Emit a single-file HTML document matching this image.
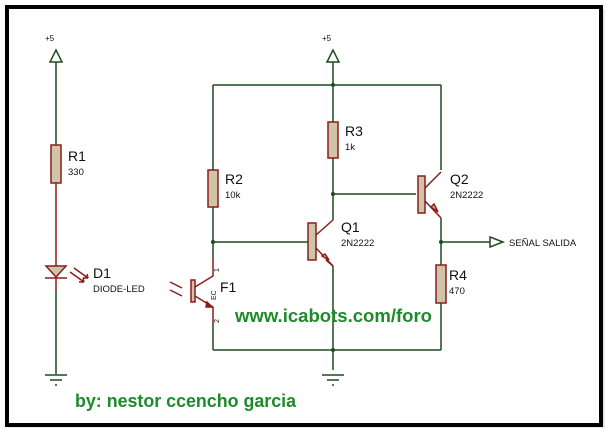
<!DOCTYPE html>
<html><head><style>
html,body{margin:0;padding:0;background:#fff;}
svg{display:block;}
text{font-family:"Liberation Sans",Arial,sans-serif;}
</style></head><body>
<svg width="613" height="438" viewBox="0 0 613 438" xmlns="http://www.w3.org/2000/svg">
<rect x="0" y="0" width="613" height="438" fill="#fff"/>
<rect x="9" y="9" width="596" height="419" fill="#e8e8e8"/>
<rect x="7" y="7" width="594" height="418" fill="#fff" stroke="#000" stroke-width="4"/>
<g stroke="#1f4a1f" stroke-width="1.5" fill="none">
 <line x1="56" y1="62" x2="56" y2="145"/>
 <path d="M50 62 L56 50 L62 62 Z" fill="#fff"/>
 <line x1="213" y1="85" x2="441" y2="85"/>
 <line x1="213" y1="85" x2="213" y2="170"/>
 <line x1="441" y1="85" x2="441" y2="170"/>
 <line x1="333" y1="62" x2="333" y2="122"/>
 <path d="M327 62 L333 50 L339 62 Z" fill="#fff"/>
 <line x1="213" y1="242" x2="308" y2="242"/>
 <line x1="333" y1="158" x2="333" y2="220"/>
 <line x1="333" y1="194" x2="416" y2="194"/>
 <line x1="441" y1="218" x2="441" y2="265"/>
 <line x1="441" y1="242" x2="490" y2="242"/>
 <path d="M490 237 L503 242 L490 247 Z" fill="#fff"/>
 <line x1="333" y1="266" x2="333" y2="370"/>
 <line x1="441" y1="303" x2="441" y2="350"/>
 <line x1="213" y1="350" x2="441" y2="350"/>
 <line x1="213" y1="323" x2="213" y2="350"/>
 <line x1="213" y1="207" x2="213" y2="258"/>
 <line x1="56" y1="290" x2="56" y2="374"/>
 <line x1="45" y1="375" x2="67" y2="375"/>
 <line x1="50" y1="380" x2="62" y2="380"/>
 <line x1="55" y1="385" x2="57" y2="385"/>
 <line x1="322" y1="375" x2="344" y2="375"/>
 <line x1="327" y1="380" x2="339" y2="380"/>
 <line x1="332" y1="385" x2="334" y2="385"/>
</g>
<g fill="#1f4a1f">
 <circle cx="333" cy="85" r="2"/><circle cx="213" cy="242" r="2"/>
 <circle cx="333" cy="194" r="2"/><circle cx="441" cy="242" r="2"/>
 <circle cx="333" cy="350" r="2"/>
</g>
<g stroke="#8a1c1c" stroke-width="1.5" fill="#cfc4a8">
 <line x1="56" y1="183" x2="56" y2="290" fill="none"/>
 <rect x="51" y="145" width="10" height="38"/>
 <rect x="208" y="170" width="10" height="37"/>
 <rect x="328" y="122" width="10" height="36"/>
 <rect x="436" y="265" width="10" height="38"/>
 <path d="M46 266 L66 266 L56 277 Z"/>
 <line x1="45" y1="278" x2="67" y2="278"/>
 <path d="M70 272 L84 282 M74 268 L88 278 M84 282 l-5 0 M84 282 l-1 -4 M88 278 l-5 0 M88 278 l-1 -4" fill="none"/>
 <rect x="308" y="223" width="8" height="37"/>
 <path d="M316 235 L333 220 M316 248 L333 266" fill="none"/>
 <path d="M322 256 L329 260 L325 254 Z M326 260 L333 266" fill="#cfc4a8"/>
 <rect x="418" y="176" width="7" height="37"/>
 <path d="M425 188 L441 172 M425 201 L441 218" fill="none"/>
 <path d="M431 207 L438 212 L434 204 Z"/>
 <rect x="191" y="280" width="4" height="22"/>
 <path d="M195 287 L213 276 L213 258 M195 296 L213 307 L213 323" fill="none"/>
 <path d="M207 302 L212 307 L206 307 Z" fill="#8a1c1c"/>
 <path d="M170 282 L182 288 M170 290 L182 296" fill="none"/>
</g>
<g fill="#111">
 <text x="68" y="161" font-size="14">R1</text><text x="68" y="175" font-size="9.5">330</text>
 <text x="225" y="184" font-size="14">R2</text><text x="225" y="198" font-size="9.5">10k</text>
 <text x="345" y="136" font-size="14">R3</text><text x="345" y="150" font-size="9.5">1k</text>
 <text x="449" y="280" font-size="14">R4</text><text x="449" y="294" font-size="9.5">470</text>
 <text x="341" y="232" font-size="14">Q1</text><text x="341" y="246" font-size="9.5">2N2222</text>
 <text x="450" y="184" font-size="14">Q2</text><text x="450" y="198" font-size="9.5">2N2222</text>
 <text x="93" y="278" font-size="14">D1</text><text x="93" y="292" font-size="9.5">DIODE-LED</text>
 <text x="220" y="292" font-size="14">F1</text>
 <text x="509" y="246" font-size="9.5">SEÑAL SALIDA</text>
 <text x="45" y="41" font-size="8">+5</text>
 <text x="322" y="41" font-size="8">+5</text>
 <text x="0" y="0" font-size="7" transform="translate(219,272) rotate(-90)">1</text>
 <text x="0" y="0" font-size="7" transform="translate(219,323) rotate(-90)">2</text>
 <text x="0" y="0" font-size="7" transform="translate(216,300) rotate(-90)">EC</text>
</g>
<text x="235" y="322" font-size="18.5" font-weight="bold" fill="#1e8a2a" textLength="197" lengthAdjust="spacingAndGlyphs">www.icabots.com/foro</text>
<text x="75" y="407" font-size="18" font-weight="bold" fill="#1e8a2a" textLength="221" lengthAdjust="spacingAndGlyphs">by: nestor ccencho garcia</text>
</svg>
</body></html>
